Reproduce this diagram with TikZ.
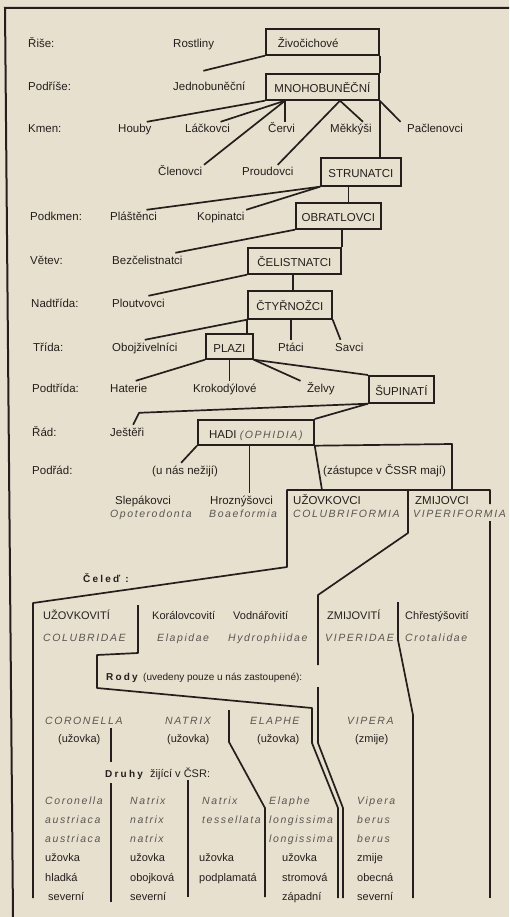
\documentclass[tikz,border=0pt]{standalone}
\usepackage{fontspec}
\setmainfont{Liberation Sans}
\newfontfamily\latfont[LetterSpace=15]{Liberation Sans}
\newfontfamily\sparsefont[LetterSpace=22]{Liberation Sans}
\definecolor{paper}{RGB}{231,224,206}
\definecolor{ink}{RGB}{36,31,29}
\definecolor{latgray}{RGB}{90,86,82}

\begin{document}
\begin{tikzpicture}[x=1pt, y=-1pt,
  every node/.style={inner xsep=1.5pt, inner ysep=3pt, text height=8pt, text depth=2pt,
    text=ink, font=\fontsize{11.5}{13}\selectfont},
  taxon/.style={anchor=base west},
  small/.style={anchor=base west, font=\fontsize{11}{13}\selectfont},
  lat/.style={anchor=base west, text=latgray, font=\fontsize{10.5}{13}\selectfont\latfont\itshape},
  spaced/.style={anchor=base west, font=\fontsize{10}{13}\selectfont\sparsefont\bfseries},
  taxbox/.style={draw=ink, line width=1.7pt, anchor=north west, minimum height=26pt,
    text height=14pt, text depth=2pt, inner xsep=0pt},
  conn/.style={draw=ink, line width=1.7pt, line join=round}]

   \fill[paper] (0,0) rectangle (509,917);
   \useasboundingbox (0,0) rectangle (509,917);

   % ramecek
   \coordinate (frameTL) at (5,8);
   \coordinate (frameTR) at (509,8);
   \coordinate (frameBL) at (13,917);
   \draw[ink, line width=2pt] (frameTR) -- (frameTL) -- (frameBL);

   % rank labels
   \node[taxon] (rRise)  at (26.5,48)  {Řiše:};
   \node[taxon] (rPodr)  at (26.5,91)  {Podříše:};
   \node[taxon] (rKmen)  at (26.5,133) {Kmen:};
   \node[taxon] (rPodk)  at (28.5,221) {Podkmen:};
   \node[taxon] (rVetev) at (28.5,264) {Větev:};
   \node[taxon] (rNadt)  at (29.5,307) {Nadtřída:};
   \node[taxon] (rTrida) at (31.5,351) {Třída:};
   \node[taxon] (rPodt)  at (30.5,392) {Podtřída:};
   \node[taxon] (rRad)   at (30.5,436) {Řád:};
   \node[taxon] (rPodrad) at (30.5,474) {Podřád:};

   % boxes
   \node[taxbox, minimum width=113pt, text width=89pt, align=left, inner xsep=12pt]
        (zivo) at (265,28) {Živočichové};
   \node[taxbox, minimum width=113pt] (mnoho)  at (265,73)  {MNOHOBUNĚČNÍ};
   \node[taxbox, minimum width=80pt, minimum height=28pt] (strun) at (320,157) {STRUNATCI};
   \node[taxbox, minimum width=85pt]  (obrat)  at (295,202) {OBRATLOVCI};
   \node[taxbox, minimum width=93pt]  (celist) at (247,247) {ČELISTNATCI};
   \node[taxbox, minimum width=84pt, minimum height=28pt] (ctyr) at (247,290) {ČTYŘNOŽCI};
   \node[taxbox, minimum width=47pt, minimum height=25pt] (plazi) at (205,333) {PLAZI};
   \node[taxbox, minimum width=65pt, minimum height=27pt] (supin) at (368,375) {ŠUPINATÍ};
   \node[taxbox, minimum width=116pt, minimum height=25pt] (hadi) at (197,419)
        {HADI \textcolor{latgray}{\fontsize{10.5}{13}\selectfont\latfont\itshape(OPHIDIA)}};

   % taxa
   \node[taxon] (rost)  at (171.5,48)  {Rostliny};
   \node[taxon] (jedno) at (171.5,91)  {Jednobuněční};
   \node[taxon] (houby) at (116.5,133) {Houby};
   \node[taxon] (lack)  at (183.5,133) {Láčkovci};
   \node[taxon] (cervi) at (266.5,133) {Červi};
   \node[taxon] (mekk)  at (328.5,133) {Měkkýši};
   \node[taxon] (pacl)  at (405.5,133) {Pačlenovci};
   \node[taxon] (clen)  at (156.5,176) {Členovci};
   \node[taxon] (prou)  at (240.5,176) {Proudovci};
   \node[taxon] (plast) at (108.5,221) {Pláštěnci};
   \node[taxon] (kopin) at (195.5,221) {Kopinatci};
   \node[taxon] (bezc)  at (110.5,264) {Bezčelistnatci};
   \node[taxon] (plout) at (110.5,307) {Ploutvovci};
   \node[taxon] (oboj)  at (110.5,351) {Obojživelníci};
   \node[taxon] (ptaci) at (276.5,351) {Ptáci};
   \node[taxon] (savci) at (333.5,351) {Savci};
   \node[taxon] (hater) at (108.5,392) {Haterie};
   \node[taxon] (kroko) at (191.5,392) {Krokodýlové};
   \node[taxon] (zelvy) at (305.5,392) {Želvy};
   \node[taxon] (jest)  at (108.5,436) {Ještěři};
   \node[taxon] (nezij) at (150.5,474) {(u nás nežijí)};
   \node[taxon] (zast)  at (321.5,474) {(zástupce v ČSSR mají)};

   % podrady
   \node[taxon] (slep)      at (113.5,504) {Slepákovci};
   \node[lat]   (slepLat)   at (108.5,517) {Opoterodonta};
   \node[taxon] (hrozn)     at (208.5,504) {Hroznýšovci};
   \node[lat]   (hroznLat)  at (207.5,517) {Boaeformia};
   \node[taxon] (uzovkovci) at (291.5,504) {UŽOVKOVCI};
   \node[lat]   (uzovkLat)  at (291.5,517) {COLUBRIFORMIA};
   \node[taxon] (zmijovci)  at (413.5,504) {ZMIJOVCI};
   \node[lat]   (zmijLat)   at (411.5,517) {VIPERIFORMIA};

   % celedi
   \node[spaced] (celed)     at (81.5,582)  {Čeleď :};
   \node[small] (uzoviti)    at (41.5,619)  {UŽOVKOVITÍ};
   \node[lat]   (uzovitiLat) at (41.5,641)  {COLUBRIDAE};
   \node[small] (koral)      at (150.5,619) {Korálovcovití};
   \node[lat]   (koralLat)   at (155.5,641) {Elapidae};
   \node[small] (vodn)       at (231.5,619) {Vodnářovití};
   \node[lat]   (vodnLat)    at (226.5,641) {Hydrophiidae};
   \node[small] (zmijoviti)  at (325.5,619) {ZMIJOVITÍ};
   \node[lat]   (zmijovLat)  at (323.5,641) {VIPERIDAE};
   \node[small] (chrest)     at (403.5,619) {Chřestýšovití};
   \node[lat]   (chrestLat)  at (403.5,641) {Crotalidae};

   % rody
   \node[spaced] (rody)     at (104.5,680) {Rody};
   \node[taxon, font=\fontsize{10}{13}\selectfont] (rodyNote) at (141.5,680)
        {(uvedeny pouze u nás zastoupené):};
   \node[lat]   (coron)  at (43.5,724)  {CORONELLA};
   \node[lat]   (natrix) at (163.5,724) {NATRIX};
   \node[lat]   (elaphe) at (248.5,724) {ELAPHE};
   \node[lat]   (vipera) at (345.5,724) {VIPERA};
   \node[small] (coronCz)  at (56.5,742)  {(užovka)};
   \node[small] (natrixCz) at (165.5,742) {(užovka)};
   \node[small] (elapheCz) at (255.5,742) {(užovka)};
   \node[small] (viperaCz) at (353.5,742) {(zmije)};

   % druhy
   \node[spaced] (druhy)     at (103.5,777) {Druhy};
   \node[small]  (druhyNote) at (148.5,777) {žijící v ČSR:};
   \foreach \t [count=\i] in {Coronella,austriaca,austriaca}
     \node[lat] (sa\i) at (43.5,{785+19.2*\i}) {\t};
   \foreach \t [count=\i from 4] in {užovka,hladká}
     \node[small] (sa\i) at (43.5,{785+19.2*\i}) {\t};
   \node[small] (sa6) at (46.5,900) {severní};
   \foreach \t [count=\i] in {Natrix,natrix,natrix}
     \node[lat] (sb\i) at (128.5,{785+19.2*\i}) {\t};
   \foreach \t [count=\i from 4] in {užovka,obojková,severní}
     \node[small] (sb\i) at (128.5,{785+19.2*\i}) {\t};
   \foreach \t [count=\i] in {Natrix,tessellata}
     \node[lat] (sc\i) at (200.5,{785+19.2*\i}) {\t};
   \foreach \t [count=\i from 4] in {užovka,podplamatá}
     \node[small] (sc\i) at (197.5,{785+19.2*\i}) {\t};
   \foreach \t [count=\i] in {Elaphe,longissima,longissima}
     \node[lat] (sd\i) at (267.5,{785+19.2*\i}) {\t};
   \foreach \t [count=\i from 4] in {užovka,stromová,západní}
     \node[small] (sd\i) at (280.5,{785+19.2*\i}) {\t};
   \foreach \t [count=\i] in {Vipera,berus,berus}
     \node[lat] (se\i) at (355.5,{785+19.2*\i}) {\t};
   \foreach \t [count=\i from 4] in {zmije,obecná,severní}
     \node[small] (se\i) at (355.5,{785+19.2*\i}) {\t};

   % rise a podrise
   \draw[conn] (zivo.south west) -- ([xshift=-6pt,yshift=9pt]jedno.north);
   \draw[conn] (zivo.south east) -- (mnoho.north east);
   % kmeny
   \coordinate (m1) at ([xshift=20pt]mnoho.south west);
   \coordinate (m2) at ([xshift=75pt]mnoho.south west);
   \draw[conn] (mnoho.south west) -- ([xshift=12pt]houby.north);
   \draw[conn] (m1) -- ([xshift=13pt]lack.north);
   \draw[conn] (m1) -- (m1 |- cervi.north);
   \draw[conn] (m1) -- (clen.north east);
   \draw[conn] (m2) -- ([xshift=12pt]mekk.north);
   \draw[conn] (m2) -- ([xshift=10pt]prou.north);
   \draw[conn] (mnoho.south east) -- ([xshift=-5pt]pacl.north west);
   \draw[conn] (mnoho.south east) -- (mnoho.south east |- strun.north);
   % podkmen
   \draw[conn] (strun.south west) -- ([xshift=13pt]plast.north);
   \draw[conn] (strun.south west) -- (kopin.north east);
   \draw[conn] ([xshift=10pt]obrat.north) -- ([xshift=10pt]obrat.north |- strun.south);
   % vetev
   \draw[conn] (obrat.south west) -- ([xshift=28pt]bezc.north);
   \draw[conn] (celist.north east) -- (celist.north east |- obrat.south);
   % nadtrida
   \draw[conn] (celist.south west) -- ([xshift=10pt]plout.north);
   \draw[conn] ([xshift=3pt]ctyr.north) -- ([xshift=3pt]ctyr.north |- celist.south);
   % trida
   \draw[conn] (ctyr.south west) -- (oboj.north);
   \draw[conn] (ctyr.south west) -- (ctyr.south west |- plazi.north);
   \draw[conn] (ptaci.north) -- (ptaci.north |- ctyr.south);
   \draw[conn] (ctyr.south east) -- ([xshift=7pt]savci.north west);
   % podtrida
   \draw[conn] (plazi.south west) -- ([xshift=7pt]hater.north);
   \draw[conn] (plazi.south) -- (plazi.south |- kroko.north);
   \draw[conn] (plazi.south east) -- ([xshift=-5pt]zelvy.north west);
   \draw[conn] (plazi.south east) -- (supin.north west);
   % rad
   \draw[conn] (supin.south west) -- ([shift={(12pt,12pt)}]jest.north) -- ([xshift=6pt]jest.north);
   \draw[conn] (supin.south west) -- (hadi.north east);
   % podrad
   \draw[conn] (hadi.south west) -- ([xshift=-4pt]nezij.north);
   \draw[conn] ([xshift=8pt]hrozn.north) -- ([xshift=8pt]hrozn.north |- hadi.south);

   % spodni ramy
   \coordinate (hadiR)  at (452,444);
   \coordinate (uzMeet) at (322,490);
   \coordinate (barW)   at (287,490);
   \coordinate (barE)   at (490,490);
   \coordinate (barM)   at (452,490);
   \coordinate (zmA)    at (490,504);
   \coordinate (zmB)    at (490,521);
   \coordinate (zmEnd)  at (490,898);
   \coordinate (uzLow)  at (287,567);
   \coordinate (famW)   at (33,603);
   \coordinate (famEnd) at (33,898);
   \coordinate (uzR)    at (408,490);
   \coordinate (uzRlow) at (408,533);
   \coordinate (viA)    at (318,595);
   \coordinate (viB)    at (318,665);
   \coordinate (viC)    at (318,687);
   \coordinate (viD)    at (318,743);
   \coordinate (viE)    at (343,808);
   \coordinate (viEnd)  at (343,898);
   \coordinate (colA)   at (138,605);
   \coordinate (colB)   at (138,653);
   \coordinate (colC)   at (97,655);
   \coordinate (colD)   at (97,688);
   \coordinate (elA)    at (312,708);
   \coordinate (elB)    at (312,743);
   \coordinate (elC)    at (338,808);
   \coordinate (elEnd)  at (338,898);
   \coordinate (crA)    at (398,602);
   \coordinate (crB)    at (398,640);
   \coordinate (crC)    at (413,715);
   \coordinate (crEnd)  at (413,898);
   \coordinate (coA)    at (111,728);
   \coordinate (coB)    at (111,762);
   \coordinate (coC)    at (111,783);
   \coordinate (coEnd)  at (111,902);
   \coordinate (naA)    at (229,710);
   \coordinate (naB)    at (229,742);
   \coordinate (naC)    at (265,808);
   \coordinate (naEnd)  at (265,897);
   \coordinate (ntA)    at (188,780);
   \coordinate (ntEnd)  at (188,897);

   \draw[conn] (hadi.south east) -- (uzMeet);
   \draw[conn] (hadi.south east) -- (hadiR) -- (barM);
   \draw[conn] (famEnd) -- (famW) -- (uzLow) -- (barW) -- (barE) -- (zmA);
   \draw[conn] (zmB) -- (zmEnd);
   \draw[conn] (uzR) -- (uzRlow) -- (viA) -- (viB);
   \draw[conn] (viC) -- (viD) -- (viE) -- (viEnd);
   \draw[conn] (colA) -- (colB) -- (colC) -- (colD) -- (elA) -- (elB) -- (elC) -- (elEnd);
   \draw[conn] (crA) -- (crB) -- (crC) -- (crEnd);
   \draw[conn] (coA) -- (coB);
   \draw[conn] (coC) -- (coEnd);
   \draw[conn] (naA) -- (naB) -- (naC) -- (naEnd);
   \draw[conn] (ntA) -- (ntEnd);
\end{tikzpicture}
\end{document}
